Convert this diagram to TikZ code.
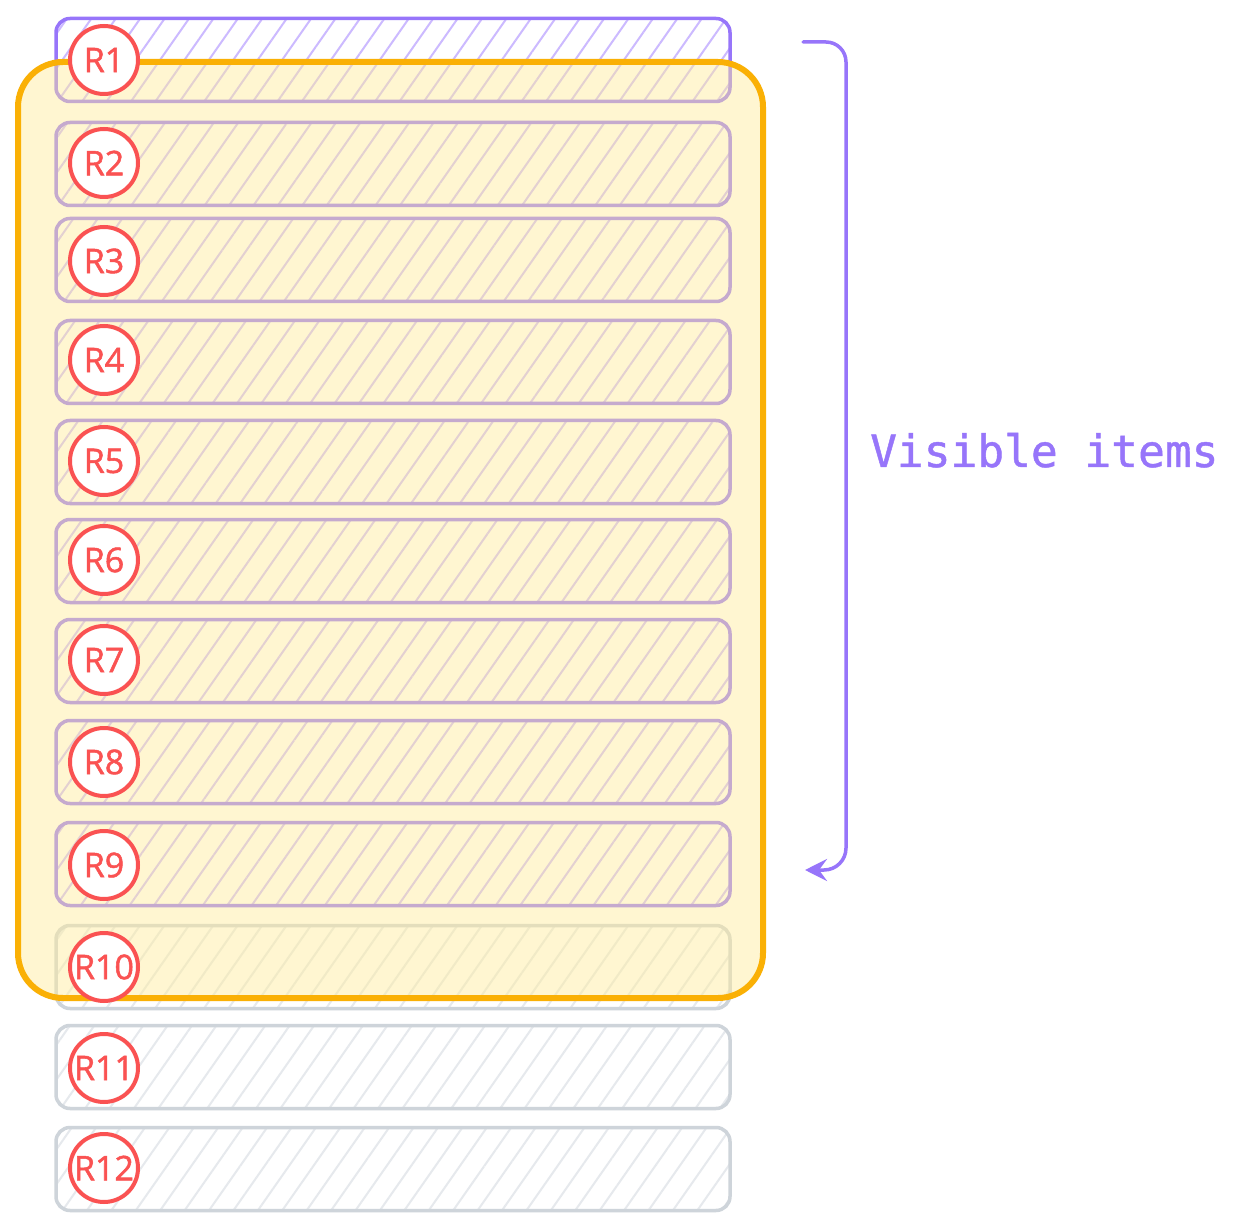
\documentclass[tikz,border=0pt]{standalone}
\usepackage{fontspec}
\setmainfont{Open Sans}
\newfontfamily\lblfont[FakeBold=1.5]{Open Sans}
\newfontfamily\capmono[FakeBold=1.0]{DejaVu Sans Mono}
\usetikzlibrary{patterns.meta,arrows.meta}
\definecolor{vpurple}{HTML}{9775FA}
\definecolor{hpurple}{HTML}{CCBAFF}
\definecolor{rgray}{HTML}{CED4DA}
\definecolor{hgray}{HTML}{E6E9ED}
\definecolor{vporange}{HTML}{FAB005}
\definecolor{vpyellow}{HTML}{FFEC99}
\definecolor{lred}{HTML}{FA5252}
\tikzset{
  rowbox/.style={draw=#1, line width=3.5pt, rounded corners=14pt, minimum width=674pt, minimum height=83pt, inner sep=0pt},
  purplerow/.style={rowbox=vpurple, pattern={Lines[angle=55,distance=20pt,line width=2pt]}, pattern color=hpurple},
  grayrow/.style={rowbox=rgray, pattern={Lines[angle=55,distance=20pt,line width=2pt]}, pattern color=hgray},
  viewport/.style={draw=vporange, line width=6pt, fill=vpyellow, fill opacity=0.45, draw opacity=1, rounded corners=45pt, minimum width=745pt, minimum height=936pt, inner sep=0pt},
  rlabel/.style={circle, draw=lred, line width=4pt, fill=white, text=lred, minimum size=68pt, inner sep=0pt, font=\lblfont\fontsize{34}{34}\selectfont},
  bracepath/.style={draw=vpurple, line width=3.5pt, line cap=round, line join=round},
  caption/.style={text=vpurple, font=\capmono\fontsize{44.5}{44.5}\selectfont, anchor=base west, inner sep=0pt}
}
\begin{document}
\begin{tikzpicture}[x=1pt,y=-1pt]
\useasboundingbox (0,0) rectangle (1240,1230);
\fill[white] (0,0) rectangle (1240,1230);
% rows
\node[purplerow] (row1) at (393,60) {};
\node[purplerow] (row2) at (393,164) {};
\node[purplerow] (row3) at (393,260) {};
\node[purplerow] (row4) at (393,362) {};
\node[purplerow] (row5) at (393,462) {};
\node[purplerow] (row6) at (393,561) {};
\node[purplerow] (row7) at (393,661) {};
\node[purplerow] (row8) at (393,762) {};
\node[purplerow] (row9) at (393,864) {};
\node[grayrow] (row10) at (393,967) {};
\node[grayrow] (row11) at (393,1067) {};
\node[grayrow] (row12) at (393,1169) {};
% viewport
\node[viewport] (vp) at (390.5,530) {};
% labels
\node[rlabel] (l1) at (104,60) {R1};
\node[rlabel] (l2) at (104,163) {R2};
\node[rlabel] (l3) at (104,261) {R3};
\node[rlabel] (l4) at (104,360) {R4};
\node[rlabel] (l5) at (104,461) {R5};
\node[rlabel] (l6) at (104,560) {R6};
\node[rlabel] (l7) at (104,660) {R7};
\node[rlabel] (l8) at (104,762) {R8};
\node[rlabel] (l9) at (104,865) {R9};
\node[rlabel] (l10) at (104,967) {R10};
\node[rlabel] (l11) at (104,1068) {R11};
\node[rlabel] (l12) at (104,1168) {R12};
% brace
\coordinate (bt) at (803,42);
\coordinate (bb) at (805,870);
\draw[bracepath, -{Stealth[length=22pt,width=22pt,inset=8pt]}] (bt) -- (826,42) to[out=0,in=90] (846,62) -- (846,848) to[out=-90,in=0] (824,870) -- (bb);
\node[caption] (cap) at (870,467) {Visible items};
\end{tikzpicture}
\end{document}
